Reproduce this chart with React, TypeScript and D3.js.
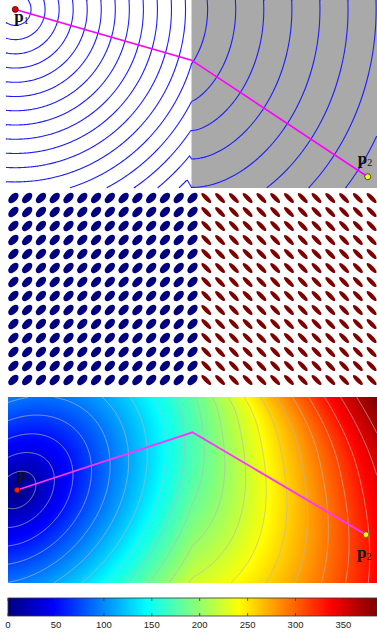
import React, { useMemo } from "react";
import * as d3 from "d3";

const WIDTH = 377;
const HEIGHT = 632;

// both maps live on the same 200 x 100 grid, interface down the middle
const GRID_W = 200;
const GRID_H = 100;
const INTERFACE_X = 100;

// top map: isotropic, right half twice as fast
const topSource = [5, 5];
const topTarget = [195, 94];
const topPath = [[5, 5], [100, 32], [195, 94]];
const topMetricLeft = { angle: 0, fastCost: 1, slowCost: 1 };
const topMetricRight = { angle: 0, fastCost: 0.5, slowCost: 0.5 };
const topFirstLevel = 8.5;
const topLevelStep = 7.57;
const topLevelCount = 20;

// bottom map: anisotropic metric on each side
const bottomSource = [5, 50];
const bottomTarget = [194, 74];
const bottomPath = [[5, 50], [100, 19], [194, 74]];
const bottomMetricLeft = { angle: -45, fastCost: 1.62, slowCost: 2.12 };
const bottomMetricRight = { angle: 45, fastCost: 1.28, slowCost: 2.69 };
const bottomLevelStep = 18.33;
const bottomLevelCount = 20;

// tensor glyphs (semi axes in grid units)
const glyphColsLeft = 14;
const glyphColsRight = 13;
const glyphRows = 14;
const glyphLeft = { angle: -45, major: 3.4, minor: 2.0 };
const glyphRight = { angle: 45, major: 3.6, minor: 1.2 };

const colorMax = 385;
const colorTicks = [0, 50, 100, 150, 200, 250, 300, 350];
const jetStops = [0, 0.125, 0.375, 0.625, 0.875, 1];
const jetColors = ["#00007f", "#0000ff", "#00ffff", "#ffff00", "#ff0000", "#7f0000"];

const jet = d3
  .scaleLinear<string>()
  .domain(jetStops.map((t) => t * colorMax))
  .range(jetColors)
  .clamp(true);

function quadNorm(m) {
  const a = (m.angle * Math.PI) / 180;
  const c = Math.cos(a);
  const s = Math.sin(a);
  const f2 = m.fastCost * m.fastCost;
  const s2 = m.slowCost * m.slowCost;
  const A = f2 * c * c + s2 * s * s;
  const B = (f2 - s2) * c * s;
  const C = f2 * s * s + s2 * c * c;
  return (dx, dy) => Math.sqrt(Math.max(0, A * dx * dx + 2 * B * dx * dy + C * dy * dy));
}

// travel time from source, crossing (or running along) the interface
function travelTime(metricL, metricR, source, nx, ny) {
  const nL = quadNorm(metricL);
  const nR = quadNorm(metricR);
  const ys = d3.range(0, GRID_H + 0.25, 0.5);
  const direct = ys.map((y) => nL(INTERFACE_X - source[0], y - source[1]));
  const cI = Math.min(nL(0, 1), nR(0, 1));
  const tI = ys.map((y) => d3.min(ys, (y2, k) => direct[k] + cI * Math.abs(y - y2)));
  const values = new Float64Array(nx * ny);
  for (let j = 0; j < ny; j++) {
    const gy = ((j + 0.5) / ny) * GRID_H;
    for (let i = 0; i < nx; i++) {
      const gx = ((i + 0.5) / nx) * GRID_W;
      let t = Infinity;
      const left = gx < INTERFACE_X;
      const norm = left ? nL : nR;
      if (left) t = nL(gx - source[0], gy - source[1]);
      const dx = gx - INTERFACE_X;
      for (let k = 0; k < ys.length; k++) {
        const v = tI[k] + norm(dx, gy - ys[k]);
        if (v < t) t = v;
      }
      values[j * nx + i] = t;
    }
  }
  return values;
}

// contour rings -> open isolines (drop the pieces that run along the grid border)
function isolines(values, n, levels) {
  const [nx, ny] = n;
  const edge = (p) => p[0] <= 0 || p[0] >= nx || p[1] <= 0 || p[1] >= ny;
  const lines = [];
  d3.contours().size(n).thresholds(levels)(Array.from(values)).forEach((mp) => {
    mp.coordinates.forEach((poly) => {
      poly.forEach((ring) => {
        let cur = [];
        for (let i = 0; i < ring.length - 1; i++) {
          const a = ring[i];
          const b = ring[i + 1];
          if (edge(a) && edge(b)) {
            if (cur.length > 1) lines.push(cur);
            cur = [];
            continue;
          }
          if (!cur.length) cur.push(a);
          cur.push(b);
        }
        if (cur.length > 1) lines.push(cur);
      });
    });
  });
  return lines.map((l) => l.map((p) => [(p[0] / nx) * GRID_W, (p[1] / ny) * GRID_H]));
}

const App = () => {
  const xTop = d3.scaleLinear().domain([0, GRID_W]).range([6, 377]);
  const yTop = d3.scaleLinear().domain([0, GRID_H]).range([0, 188]);
  const xBot = d3.scaleLinear().domain([0, GRID_W]).range([8, 377]);
  const yBot = d3.scaleLinear().domain([0, GRID_H]).range([397, 583]);
  const xBar = d3.scaleLinear().domain([0, colorMax]).range([8, 377]);

  const topN = [371, 188];
  const botN = [369, 186];

  const computed = useMemo(() => {
    const topVals = travelTime(topMetricLeft, topMetricRight, topSource, topN[0], topN[1]);
    const botVals = travelTime(bottomMetricLeft, bottomMetricRight, bottomSource, botN[0], botN[1]);

    const topLevels = d3.range(topLevelCount).map((k) => topFirstLevel + k * topLevelStep);
    const botLevels = d3.range(1, bottomLevelCount + 1).map((k) => k * bottomLevelStep);

    const canvas = document.createElement("canvas");
    canvas.width = botN[0];
    canvas.height = botN[1];
    const ctx = canvas.getContext("2d");
    const img = ctx.createImageData(botN[0], botN[1]);
    for (let i = 0; i < botVals.length; i++) {
      const c = d3.rgb(jet(botVals[i]));
      img.data[i * 4] = c.r;
      img.data[i * 4 + 1] = c.g;
      img.data[i * 4 + 2] = c.b;
      img.data[i * 4 + 3] = 255;
    }
    ctx.putImageData(img, 0, 0);
    return {
      topLines: isolines(topVals, topN, topLevels),
      botLines: isolines(botVals, botN, botLevels),
      heat: canvas.toDataURL(),
    };
  }, []);

  const topLine = d3.line().x((d) => xTop(d[0])).y((d) => yTop(d[1]));
  const botLine = d3.line().x((d) => xBot(d[0])).y((d) => yBot(d[1]));

  // glyph grid: left columns blue, right columns red
  const glyphCols = glyphColsLeft + glyphColsRight;
  const gx = d3.scaleBand().domain(d3.range(glyphCols)).range([6.5, 378.5]);
  const gy = d3.scaleBand().domain(d3.range(glyphRows)).range([191, 387]);
  const unit = xTop(1) - xTop(0);
  const glyphs = [];
  d3.range(glyphRows).forEach((r) => {
    d3.range(glyphCols).forEach((c) => {
      const left = c < glyphColsLeft;
      glyphs.push({
        cx: gx(c) + gx.bandwidth() / 2,
        cy: gy(r) + gy.bandwidth() / 2,
        left,
        g: left ? glyphLeft : glyphRight,
      });
    });
  });

  const label = (x, y, sub) => (
    <text x={x} y={y} fontFamily="'Liberation Serif', 'DejaVu Serif', serif" fill="#111">
      <tspan fontSize={17} fontWeight="bold">p</tspan>
      <tspan fontSize={10} dy={2}>{sub}</tspan>
    </text>
  );

  return (
    <svg
      width={WIDTH}
      height={HEIGHT}
      style={{ position: "absolute", left: 0, top: 0, display: "block", background: "#fff" }}
    >
      <defs>
        <linearGradient id="jetbar" x1="0" x2="1" y1="0" y2="0">
          {jetStops.map((t, i) => (
            <stop key={i} offset={t} stopColor={jetColors[i]} />
          ))}
        </linearGradient>
      </defs>

      {/* top: wavefronts */}
      <rect
        x={xTop(INTERFACE_X)}
        y={yTop(0)}
        width={xTop(GRID_W) - xTop(INTERFACE_X)}
        height={yTop(GRID_H) - yTop(0)}
        fill="#a9a9a9"
      />
      <g fill="none" stroke="#1e1eff" strokeWidth={1.1}>
        {computed.topLines.map((l, i) => (
          <path key={i} d={topLine(l)} />
        ))}
      </g>
      <path d={topLine(topPath)} fill="none" stroke="#ff00ff" strokeWidth={1.6} />
      <circle cx={xTop(topSource[0])} cy={yTop(topSource[1])} r={3} fill="#e00000" stroke="#400" strokeWidth={0.8} />
      <circle cx={xTop(topTarget[0])} cy={yTop(topTarget[1])} r={3} fill="#ffff00" stroke="#222" strokeWidth={0.8} />
      {label(xTop(topSource[0]) - 1, yTop(topSource[1]) + 13, "1")}
      {label(xTop(topTarget[0]) - 10, yTop(topTarget[1]) - 13, "2")}

      {/* middle: tensor glyphs */}
      <g>
        {glyphs.map((d, i) => (
          <ellipse
            key={i}
            cx={d.cx}
            cy={d.cy}
            rx={d.g.major * unit}
            ry={d.g.minor * unit}
            transform={`rotate(${d.g.angle} ${d.cx} ${d.cy})`}
            fill={d.left ? "#000080" : "#800000"}
          />
        ))}
      </g>

      {/* bottom: distance map */}
      <image
        href={computed.heat}
        x={xBot(0)}
        y={yBot(0)}
        width={xBot(GRID_W) - xBot(0)}
        height={yBot(GRID_H) - yBot(0)}
        preserveAspectRatio="none"
      />
      <g fill="none" stroke="#b8b8b8" strokeWidth={0.8} strokeOpacity={0.9}>
        {computed.botLines.map((l, i) => (
          <path key={i} d={botLine(l)} />
        ))}
      </g>
      <path d={botLine(bottomPath)} fill="none" stroke="#ff33ff" strokeWidth={1.8} />
      <circle cx={xBot(bottomSource[0])} cy={yBot(bottomSource[1])} r={2.8} fill="#ff2000" stroke="#600" strokeWidth={0.6} />
      <circle cx={xBot(bottomTarget[0])} cy={yBot(bottomTarget[1])} r={2.8} fill="#ffff00" stroke="#333" strokeWidth={0.6} />
      {label(xBot(bottomSource[0]), yBot(bottomSource[1]) - 10, "1")}
      {label(xBot(bottomTarget[0]) - 9, yBot(bottomTarget[1]) + 23, "2")}

      {/* colorbar */}
      <rect x={xBar(0)} y={598} width={xBar(colorMax) - xBar(0)} height={18} fill="url(#jetbar)" stroke="#333" strokeWidth={0.8} />
      {colorTicks.map((t) => (
        <g key={t}>
          <line x1={xBar(t)} x2={xBar(t)} y1={598} y2={601} stroke="#333" strokeWidth={0.8} />
          <line x1={xBar(t)} x2={xBar(t)} y1={613} y2={616} stroke="#333" strokeWidth={0.8} />
          <text
            x={xBar(t)}
            y={628}
            textAnchor="middle"
            fontSize={9.5}
            fontFamily="'Liberation Sans', Arial, sans-serif"
            fill="#222"
          >
            {t}
          </text>
        </g>
      ))}
    </svg>
  );
};

export default App;
